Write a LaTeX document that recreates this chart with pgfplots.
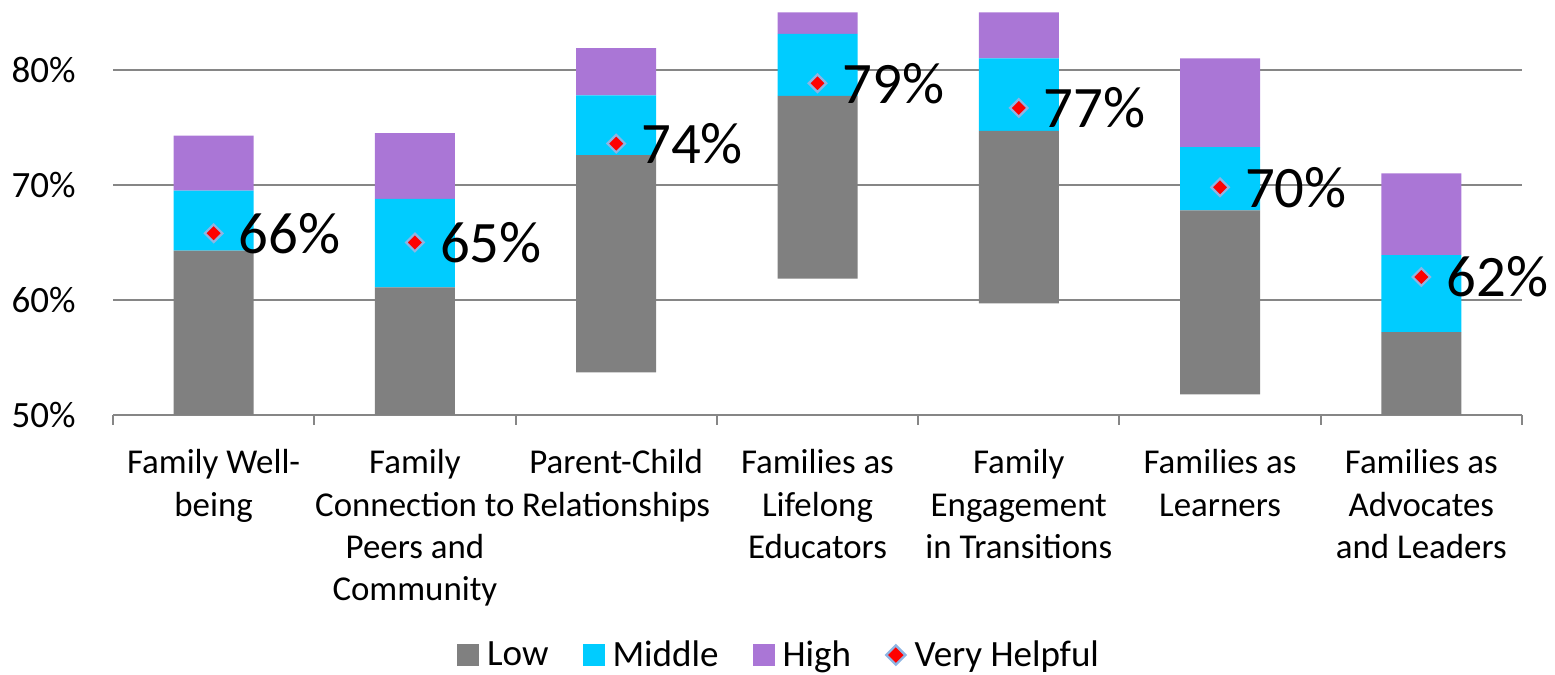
\documentclass[border=0pt]{standalone}
\usepackage{pgfplots}
\pgfplotsset{compat=1.18}
\usepackage{pgfplotstable}
\usepackage{fontspec}
\setmainfont{Carlito}
\definecolor{lowc}{RGB}{128,128,128}
\definecolor{midc}{RGB}{0,204,255}
\definecolor{highc}{RGB}{170,118,214}
\definecolor{gridc}{RGB}{134,134,134}
\definecolor{mkborder}{RGB}{142,180,227}

\pgfplotstableread{
x base low mid high
0 0     64.3 5.2 4.8
1 0     61.1 7.7 5.7
2 53.7  18.9 5.2 4.1
3 61.85 15.9 5.4 1.85
4 59.7  15.0 6.3 4.0
5 51.8  16.0 5.5 7.7
6 0     57.2 6.7 7.1
}\stacks

\pgfplotstableread{
x val lab
0 65.8 66\%
1 65.0 65\%
2 73.6 74\%
3 78.85 79\%
4 76.7 77\%
5 69.8 70\%
6 62.0 62\%
}\helpful

\newcommand{\tfont}{\fontsize{17.5}{21.3}\selectfont}
\newcommand{\lfont}{\fontsize{18.6}{22}\selectfont}

\begin{document}
\begin{tikzpicture}
\useasboundingbox (0,0) rectangle (777.5bp,337.5bp);
\begin{axis}[
  at={(56.5bp,130bp)}, anchor=south west,
  scale only axis, width=704.5bp, height=202.4bp,
  ybar stacked, bar width=40bp,
  enlargelimits=false,
  xmin=-0.5, xmax=6.5, ymin=50, ymax=85.2,
  ytick={50,60,70,80}, yticklabels={50\%,60\%,70\%,80\%},
  ymajorgrids, grid style={gridc, line width=1bp},
  axis x line*=bottom, axis y line*=left,
  y axis line style={draw=none},
  x axis line style={gridc, line width=1bp, -},
  xtick={0,...,6},
  xticklabels={{Family Well-\\being},{Family\\Connection to\\Peers and\\Community},{Parent-Child\\Relationships},{Families as\\Lifelong\\Educators},{Family\\Engagement\\in Transitions},{Families as\\Learners},{Families as\\Advocates\\and Leaders}},
  minor xtick={-0.5,0.5,...,6.5},
  tick align=outside,
  major x tick style={draw=none},
  minor x tick style={gridc, line width=1bp},
  minor tick length=5bp,
  major tick length=0bp,
  y tick style={draw=none},
  xticklabel style={text width=112bp, align=flush center, font=\tfont, inner sep=0pt, yshift=-17bp},
  yticklabel style={font=\lfont, inner sep=0pt, xshift=-18.5bp},
  legend style={draw=none, fill=none, font=\lfont, legend columns=4,
    at={(0.4734,-0.593)}, anchor=center,
    /tikz/every odd column/.append style={column sep=2bp},
    /tikz/every even column/.append style={column sep=15bp}},
  legend cell align=left,
]
\addplot[draw=none, fill=none, forget plot] table[x=x, y=base] {\stacks};
\addplot[draw=none, fill=lowc, legend image code/.code={\fill[lowc] (0bp,-5.5bp) rectangle (11bp,5.5bp);}] table[x=x, y=low] {\stacks};
\addlegendentry{Low}
\addplot[draw=none, fill=midc, legend image code/.code={\fill[midc] (0bp,-5.5bp) rectangle (11bp,5.5bp);}] table[x=x, y=mid] {\stacks};
\addlegendentry{Middle}
\addplot[draw=none, fill=highc, legend image code/.code={\fill[highc] (0bp,-5.5bp) rectangle (11bp,5.5bp);}] table[x=x, y=high] {\stacks};
\addlegendentry{High}
\addlegendimage{legend image code/.code={\draw[fill=red,draw=mkborder,line width=1.2bp] (5.5bp,4.8bp) -- (10.3bp,0bp) -- (5.5bp,-4.8bp) -- (0.7bp,0bp) -- cycle;}}
\addlegendentry{Very Helpful}
\end{axis}

\begin{axis}[
  at={(56.5bp,130bp)}, anchor=south west,
  scale only axis, width=704.5bp, height=202.4bp,
  enlargelimits=false,
  xmin=-0.5, xmax=6.5, ymin=50, ymax=85.2,
  hide axis, clip=false,
]
\addplot[only marks, mark=square*, mark size=3.1bp,
  mark options={rotate=45, fill=red, draw=mkborder, line width=1.1bp},
  point meta=explicit symbolic,
  nodes near coords, nodes near coords align=horizontal,
  nodes near coords style={anchor=west, inner sep=0pt, xshift=12bp, font=\fontsize{29.5}{35}\selectfont, text=black}]
  table[x=x, y=val, meta=lab] {\helpful};
\end{axis}
\end{tikzpicture}
\end{document}
